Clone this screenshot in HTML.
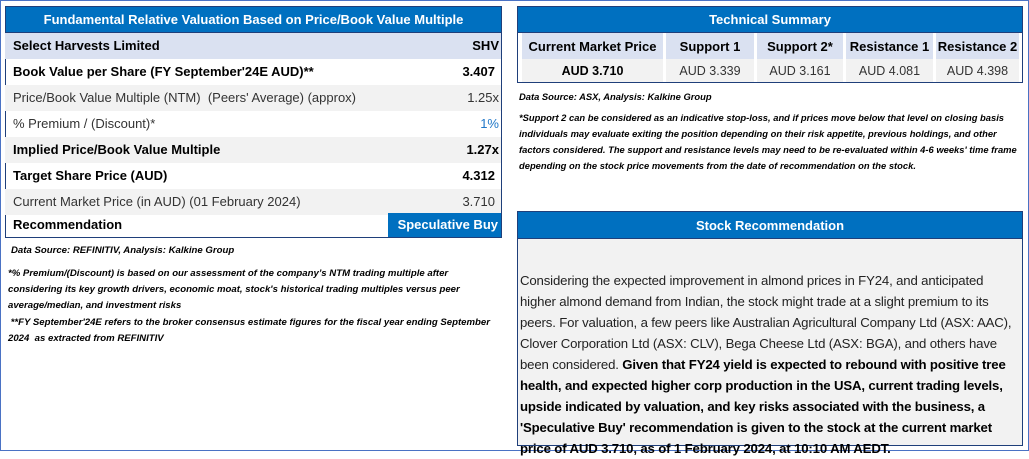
<!DOCTYPE html>
<html><head><meta charset="utf-8"><style>
*{box-sizing:border-box;margin:0;padding:0}
body{width:1029px;height:452px;background:#fff;font-family:"Liberation Sans",sans-serif;position:relative;overflow:hidden;color:#000}
.frame{position:absolute;left:0;top:0;width:1029px;height:451px;border:1.5px solid #4a72c4}
.abs{position:absolute}
.ttl{background:#0070c0;color:#fff;font-weight:bold;text-align:center;font-size:13px;line-height:26px;border:1.5px solid #1f3f7a}
.row{position:absolute;left:5px;width:496px;height:26px;font-size:13px;line-height:26px;padding-left:8px}
.row .v{position:absolute;right:2px;top:0}
.b{font-weight:bold}
.g{background:#f2f2f2}
.note{font-size:9.6px;font-style:italic;font-weight:bold;line-height:16px}
td{border:none}
</style></head><body>
<div class="frame"></div>

<div class="abs" style="left:5px;top:6px;width:497px;height:232px;border:1.5px solid #1f3f7a"></div>
<div class="abs ttl" style="left:5px;top:6px;width:497px;height:27px">Fundamental Relative Valuation Based on Price/Book Value Multiple</div>
<div class="row b" style="top:33px;background:#dae1f1">Select Harvests Limited<span class="v">SHV</span></div>
<div class="row b" style="top:59px">Book Value per Share (FY September'24E AUD)**<span class="v" style="right:6px">3.407</span></div>
<div class="row g" style="top:85px;color:#333">Price/Book Value Multiple (NTM)&nbsp; (Peers' Average) (approx)<span class="v">1.25x</span></div>
<div class="row" style="top:111px;color:#333">% Premium / (Discount)*<span class="v" style="color:#1f77c8">1%</span></div>
<div class="row b g" style="top:137px">Implied Price/Book Value Multiple<span class="v">1.27x</span></div>
<div class="row b" style="top:163px">Target Share Price (AUD)<span class="v" style="right:6px">4.312</span></div>
<div class="row g" style="top:189px;color:#333">Current Market Price (in AUD) (01 February 2024)<span class="v" style="right:6px">3.710</span></div>
<div class="row b" style="top:213px;height:24px;line-height:24px">Recommendation</div>
<div class="abs b" style="left:388px;top:213px;width:113px;height:24px;background:#0070c0;color:#fff;font-size:13px;line-height:24px;text-align:right;padding-right:3px">Speculative Buy</div>

<div class="abs note" style="left:11px;top:243px">Data Source: REFINITIV, Analysis: Kalkine Group</div>
<div class="abs note" style="left:8px;top:266px;width:490px">*% Premium/(Discount) is based on our assessment of the company’s NTM trading multiple after considering its key growth drivers, economic moat, stock's historical trading multiples versus peer average/median, and investment risks</div>
<div class="abs note" style="left:8px;top:315px;width:490px">&nbsp;**FY September'24E refers to the broker consensus estimate figures for the fiscal year ending September 2024&nbsp; as extracted from REFINITIV</div>

<div class="abs" style="left:517px;top:6px;width:506px;height:77px;border:1.5px solid #1f3f7a;background:#fff"></div>
<div class="abs ttl" style="left:517px;top:6px;width:506px;height:27px">Technical Summary</div>
<table class="abs" style="left:519px;top:33px;width:503px;border-collapse:separate;border-spacing:3px 0;font-size:12.5px;text-align:center">
<tr style="height:26px;font-weight:bold;font-size:13px">
<td style="background:#dae1f1;width:141px">Current Market Price</td>
<td style="background:#dae1f1;width:88px">Support 1</td>
<td style="background:#dae1f1;width:86px">Support 2*</td>
<td style="background:#dae1f1;width:87px">Resistance 1</td>
<td style="background:#dae1f1">Resistance 2</td></tr>
<tr style="height:23px;background:#f2f2f2">
<td class="b" style="background:#f2f2f2">AUD 3.710</td>
<td style="background:#f2f2f2;color:#333">AUD 3.339</td>
<td style="background:#f2f2f2;color:#333">AUD 3.161</td>
<td style="background:#f2f2f2;color:#333">AUD 4.081</td>
<td style="background:#f2f2f2;color:#333">AUD 4.398</td></tr>
</table>

<div class="abs note" style="left:519px;top:89px;font-size:9.4px">Data Source: ASX, Analysis: Kalkine Group</div>
<div class="abs note" style="left:519px;top:110px;width:505px;font-size:9.4px">*Support 2 can be considered as an indicative stop-loss, and if prices move below that level on closing basis individuals may evaluate exiting the position depending on their risk appetite, previous holdings, and other factors considered. The support and resistance levels may need to be re-evaluated within 4-6 weeks' time frame depending on the stock price movements from the date of recommendation on the stock.</div>

<div class="abs" style="left:517px;top:211px;width:506px;height:235px;border:1.5px solid #1f3f7a;background:#f2f2f2"></div>
<div class="abs ttl" style="left:517px;top:211px;width:506px;height:28px;line-height:27px">Stock Recommendation</div>
<div class="abs" style="left:520px;top:270px;width:502px;font-size:13.2px;line-height:21px;color:#222;letter-spacing:-0.15px">Considering the expected improvement in almond prices in FY24, and anticipated higher almond demand from Indian, the stock might trade at a slight premium to its peers. For valuation, a few peers like Australian Agricultural Company Ltd (ASX: AAC), Clover Corporation Ltd (ASX: CLV), Bega Cheese Ltd (ASX: BGA), and others have been considered. <b style="color:#000">Given that FY24 yield is expected to rebound with positive tree health, and expected higher corp production in the USA, current trading levels, upside indicated by valuation, and key risks associated with the business, a 'Speculative Buy' recommendation is given to the stock at the current market price of AUD 3.710, as of 1 February 2024, at 10:10 AM AEDT.</b></div>
</body></html>
